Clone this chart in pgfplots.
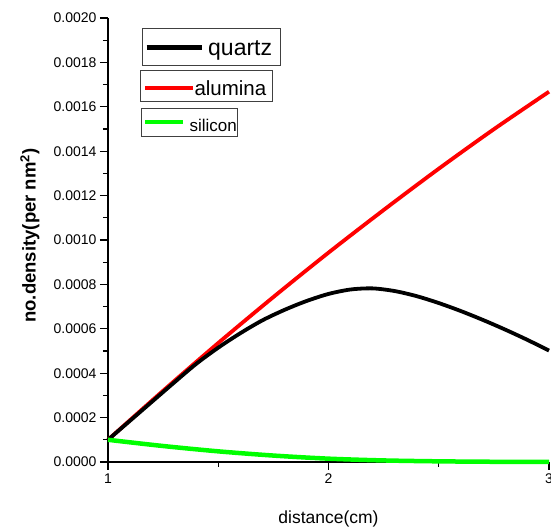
\documentclass[border=0pt]{standalone}
\usepackage{pgfplots}
\pgfplotsset{compat=1.18}
\usepackage{fontspec}
\setmainfont{Liberation Sans}

\definecolor{legbox}{HTML}{404040}

\begin{document}
\begin{tikzpicture}
\begin{axis}[
    at={(0,0)}, anchor=south west,
    scale only axis,
    width=441pt, height=444pt,
    xmin=1, xmax=3,
    ymin=0, ymax=0.002,
    axis x line*=bottom,
    axis y line*=left,
    axis line style={line width=1.2pt},
    tick align=outside,
    major tick length=8pt,
    minor tick length=5pt,
    every tick/.style={black, line width=1.1pt},
    xtick={1,2,3},
    minor xtick={1.5,2.5},
    ytick={0,0.0002,0.0004,0.0006,0.0008,0.0010,0.0012,0.0014,0.0016,0.0018,0.0020},
    minor y tick num=1,
    scaled y ticks=false,
    /pgf/number format/assume math mode=true,
    yticklabel style={/pgf/number format/fixed, /pgf/number format/fixed zerofill,
        /pgf/number format/precision=4, font=\fontsize{14}{16}\selectfont},
    xticklabel style={font=\fontsize{14}{16}\selectfont},
    xlabel={distance(cm)},
    ylabel={\textbf{no.density(per nm\textsuperscript{2})}},
    x label style={at={(axis description cs:0.5,-0.128)}, anchor=center, font=\fontsize{17.5}{20}\selectfont},
    y label style={at={(axis description cs:-0.177,0.51)}, anchor=center, font=\fontsize{18.5}{21}\selectfont},
    clip=false,
]

% alumina
\addplot[red, line width=3.8pt, smooth] coordinates {
(1.00,0.000100) (1.25,0.000321) (1.50,0.000536) (1.75,0.000743)
(2.00,0.000943) (2.25,0.001135) (2.50,0.001321) (2.75,0.001499)
(3.00,0.001668)
};

% quartz
\addplot[black, line width=3.8pt, smooth] coordinates {
(1.0,0.000100) (1.1,0.000186) (1.2,0.000272) (1.3,0.000358)
(1.4,0.000442) (1.5,0.000515) (1.6,0.000580) (1.7,0.000638)
(1.8,0.000685) (1.9,0.000725) (2.0,0.000757) (2.1,0.000777)
(2.2,0.000782) (2.3,0.000770) (2.4,0.000747) (2.5,0.000716)
(2.6,0.000680) (2.7,0.000640) (2.8,0.000597) (2.9,0.000551)
(3.0,0.000502)
};

% silicon
\addplot[green, line width=4.5pt, smooth] coordinates {
(1.00,0.000100) (1.25,0.000072) (1.50,0.000048) (1.75,0.000029)
(2.00,0.000015) (2.25,0.000007) (2.50,0.000003) (2.75,0.000001)
(3.00,0.000000)
};

\end{axis}

% legend boxes
\draw[legbox, line width=0.9pt, fill=white] (34pt,397pt) rectangle (172pt,434pt);
\draw[black, line width=5pt] (38.7pt,414.3pt) -- (93.7pt,414.3pt);
\node[anchor=base west, inner sep=0pt, font=\fontsize{23}{26}\selectfont] at (100pt,406pt) {quartz};

\draw[legbox, line width=0.9pt, fill=white] (32.7pt,360.3pt) rectangle (164.7pt,392pt);
\draw[red, line width=4pt] (37pt,374.3pt) -- (85.3pt,374.3pt);
\node[anchor=base west, inner sep=0pt, font=\fontsize{20.5}{24}\selectfont] at (86.3pt,366pt) {alumina};

\draw[legbox, line width=0.9pt, fill=white] (33pt,325.3pt) rectangle (129.3pt,353.7pt);
\draw[green, line width=4pt] (37pt,340.3pt) -- (75.3pt,340.3pt);
\node[anchor=base west, inner sep=0pt, font=\fontsize{17}{20}\selectfont] at (81.3pt,330.3pt) {silicon};

\pgfresetboundingbox
\useasboundingbox (-108pt,-67pt) rectangle (443pt,462pt);
\end{tikzpicture}
\end{document}
